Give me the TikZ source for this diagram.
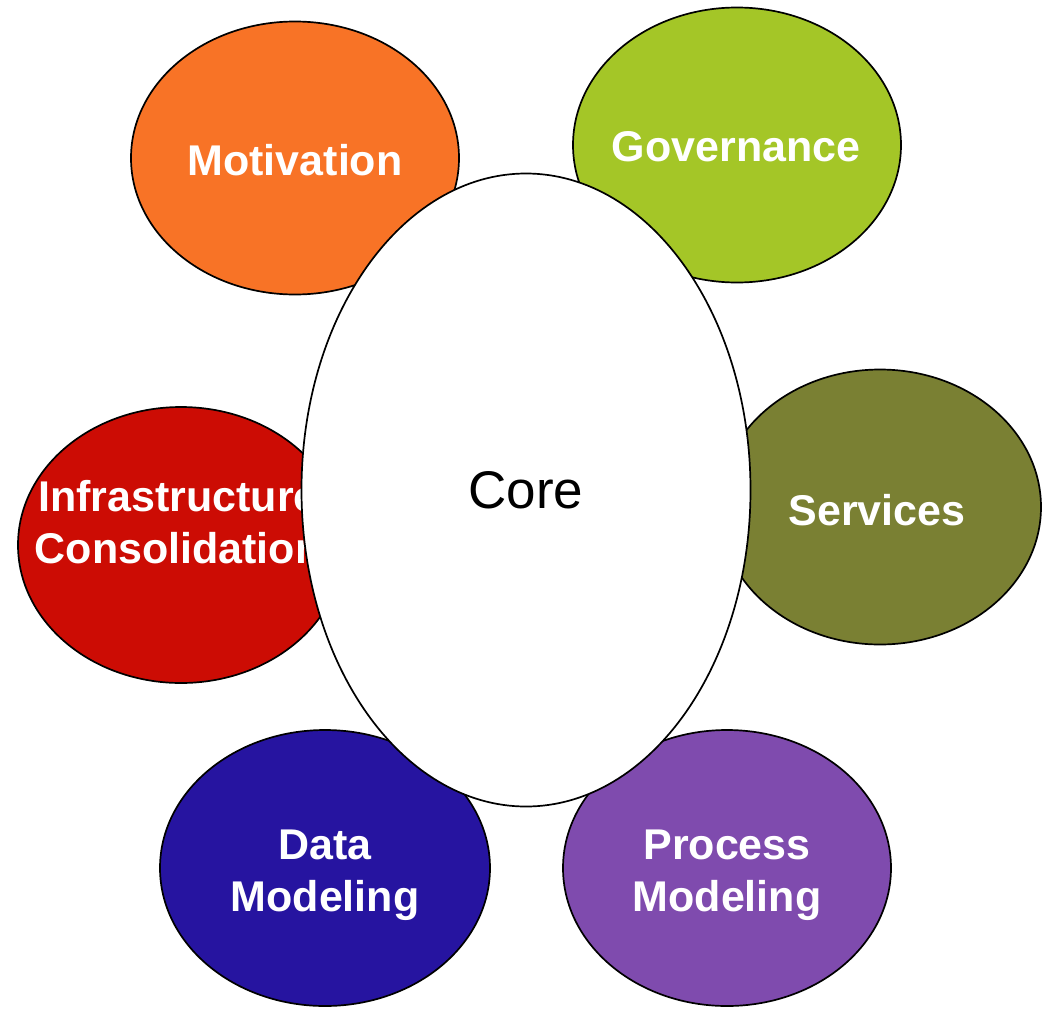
\documentclass[tikz,border=0pt]{standalone}
\usepackage{fontspec}
\setsansfont{Liberation Sans}
\usepackage{tikz}
\usetikzlibrary{shapes.geometric, positioning}
\definecolor{MotOrange}{RGB}{248,115,38}
\definecolor{GovGreen}{RGB}{164,198,39}
\definecolor{SerOlive}{RGB}{122,128,51}
\definecolor{InfRed}{RGB}{204,12,4}
\definecolor{DatBlue}{RGB}{38,20,160}
\definecolor{ProPurple}{RGB}{127,75,174}

\begin{document}
\begin{tikzpicture}[x=1pt, y=-1pt,
    blob/.style={ellipse, draw=black, line width=1.7pt, inner sep=0pt},
    blobtext/.style={text=white, align=center,
        font=\sffamily\bfseries\fontsize{43}{52}\selectfont}]
        \useasboundingbox (0,0) rectangle (1046,1009);

        % Outer ellipses
        \node[blob, fill=MotOrange, minimum width=328pt, minimum height=273pt] (mot) at (295,158) {};
        \node[blob, fill=GovGreen, minimum width=328pt, minimum height=275pt] (gov) at (737,145) {};
        \node[blob, fill=SerOlive, minimum width=322pt, minimum height=275pt] (ser) at (880,507) {};
        \node[blob, fill=InfRed, minimum width=326pt, minimum height=276pt] (inf) at (181,545) {};
        \node[blob, fill=DatBlue, minimum width=330pt, minimum height=276pt] (dat) at (325,868) {};
        \node[blob, fill=ProPurple, minimum width=328pt, minimum height=276pt] (pro) at (727,868) {};

        % Labels
        \node[blobtext] (mottxt) at (295,160) {Motivation};
        \node[blobtext] (govtxt) at (736,147) {Governance};
        \node[blobtext] (sertxt) at (877,510) {Services};
        \node[blobtext] (inftxt) at (178,522) {Infrastructure\\Consolidation};
        \node[blobtext] (dattxt) at (325,875) {Data\\Modeling};
        \node[blobtext] (protxt) at (727,875) {Process\\Modeling};

        % Core on top
        \node[blob, fill=white, minimum width=449pt, minimum height=633pt,
            font=\sffamily\fontsize{53}{60}\selectfont] (core) at (526,490) {Core};
    \end{tikzpicture}
\end{document}
